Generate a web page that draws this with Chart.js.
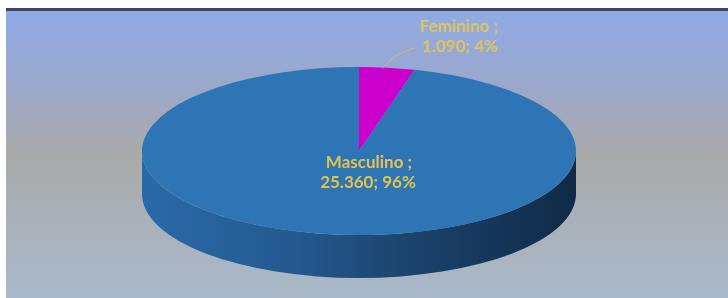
<!DOCTYPE html>
<html><head><meta charset="utf-8">
<script src="https://cdn.jsdelivr.net/npm/chart.js@4"></script>
<style>html,body{margin:0;padding:0;background:#fff;overflow:hidden;} #c{display:block;}</style>
</head><body>
<canvas id="c" width="728" height="298"></canvas>
<script>
// ---- data ----
const categories = ['Feminino', 'Masculino'];
const values = [1090, 25360];
const sliceColors = ['#cc00cc', '#2e75b6'];

// ---- look ----
const geom = {cx: 359, cy: 151, rx: 217, ry: 84, depth: 43};
const labelColor = '#e5c24a';
const fontFam = 'Lato, "Liberation Sans", sans-serif';

const total = values.reduce((a, b) => a + b, 0);
function fmt(v) { return v.toLocaleString('pt-BR'); }
function pct(v) { return Math.round(v / total * 100) + '%'; }

const pie3d = {
  id: 'pie3d',
  beforeDraw(chart) {
    const ctx = chart.ctx, W = chart.width, H = chart.height;
    ctx.save();
    ctx.fillStyle = '#ffffff';
    ctx.fillRect(0, 0, W, H);
    const g = ctx.createLinearGradient(0, 11, 0, H);
    g.addColorStop(0, '#8faae6');
    g.addColorStop(0.25, '#9aa8cc');
    g.addColorStop(0.5, '#aaaaaa');
    g.addColorStop(1, '#a9b9ca');
    ctx.fillStyle = g;
    ctx.fillRect(6, 11, W - 6, H - 11);
    ctx.fillStyle = '#3c4660';
    ctx.fillRect(6, 8, W - 6, 3);
    ctx.restore();
  },
  beforeDatasetsDraw(chart) {
    const ctx = chart.ctx;
    const meta = chart.getDatasetMeta(0);
    const {cx, cy, rx, ry, depth} = geom;
    ctx.save();
    meta.data.forEach((arc, i) => {
      const p = arc.getProps(['startAngle', 'endAngle'], true);
      for (const off of [0, -2 * Math.PI, 2 * Math.PI]) {
        const a0 = p.startAngle + off, a1 = p.endAngle + off;
        const s = Math.max(a0, 0), e = Math.min(a1, Math.PI);
        if (e <= s) continue;
        const g = ctx.createLinearGradient(cx - rx, 0, cx + rx, 0);
        if (i === 1) {
          g.addColorStop(0, '#2a6aa8');
          g.addColorStop(0.35, '#24598f');
          g.addColorStop(0.6, '#1c446e');
          g.addColorStop(1, '#0f2a47');
        } else {
          g.addColorStop(0, '#a000a0');
          g.addColorStop(1, '#500050');
        }
        ctx.beginPath();
        ctx.ellipse(cx, cy, rx, ry, 0, s, e, false);
        ctx.ellipse(cx, cy + depth, rx, ry, 0, e, s, true);
        ctx.closePath();
        ctx.fillStyle = g;
        ctx.fill();
      }
    });
    ctx.restore();
    const a = meta.data[0];
    const r = a.outerRadius;
    ctx.save();
    ctx.translate(cx, cy);
    ctx.scale(rx / r, ry / r);
    ctx.translate(-a.x, -a.y);
  },
  afterDatasetsDraw(chart) {
    const ctx = chart.ctx;
    ctx.restore();
    const meta = chart.getDatasetMeta(0);
    const {cx, cy, rx, ry} = geom;
    ctx.save();
    ctx.textAlign = 'center';
    ctx.textBaseline = 'middle';
    ctx.font = 'bold 17px ' + fontFam;
    ctx.fillStyle = labelColor;
    ctx.fillText(categories[1] + ' ;', cx + 10, cy + 12);
    ctx.fillText(fmt(values[1]) + '; ' + pct(values[1]), cx + 9, cy + 32);
    const f = meta.data[0].getProps(['startAngle', 'endAngle'], true);
    const mid = (f.startAngle + f.endAngle) / 2;
    const px = cx + rx * Math.cos(mid), py = cy + ry * Math.sin(mid);
    ctx.strokeStyle = 'rgba(229,194,74,0.7)';
    ctx.lineWidth = 1;
    ctx.beginPath();
    ctx.moveTo(px - 5, py + 1);
    ctx.quadraticCurveTo(px + 6, py - 14, px + 28, py - 20);
    ctx.stroke();
    ctx.fillStyle = 'rgba(233,198,80,0.92)';
    ctx.fillText(categories[0] + ' ;', px + 72, py - 41);
    ctx.fillText(fmt(values[0]) + '; ' + pct(values[0]), px + 73, py - 21);
    ctx.restore();
  }
};

new Chart(document.getElementById('c'), {
  type: 'pie',
  data: {
    labels: categories,
    datasets: [{
      data: values,
      backgroundColor: sliceColors,
      borderWidth: 0,
      clip: false
    }]
  },
  options: {
    responsive: false,
    animation: false,
    events: [],
    plugins: { legend: { display: false }, tooltip: { enabled: false } }
  },
  plugins: [pie3d]
});
</script>
</body></html>
